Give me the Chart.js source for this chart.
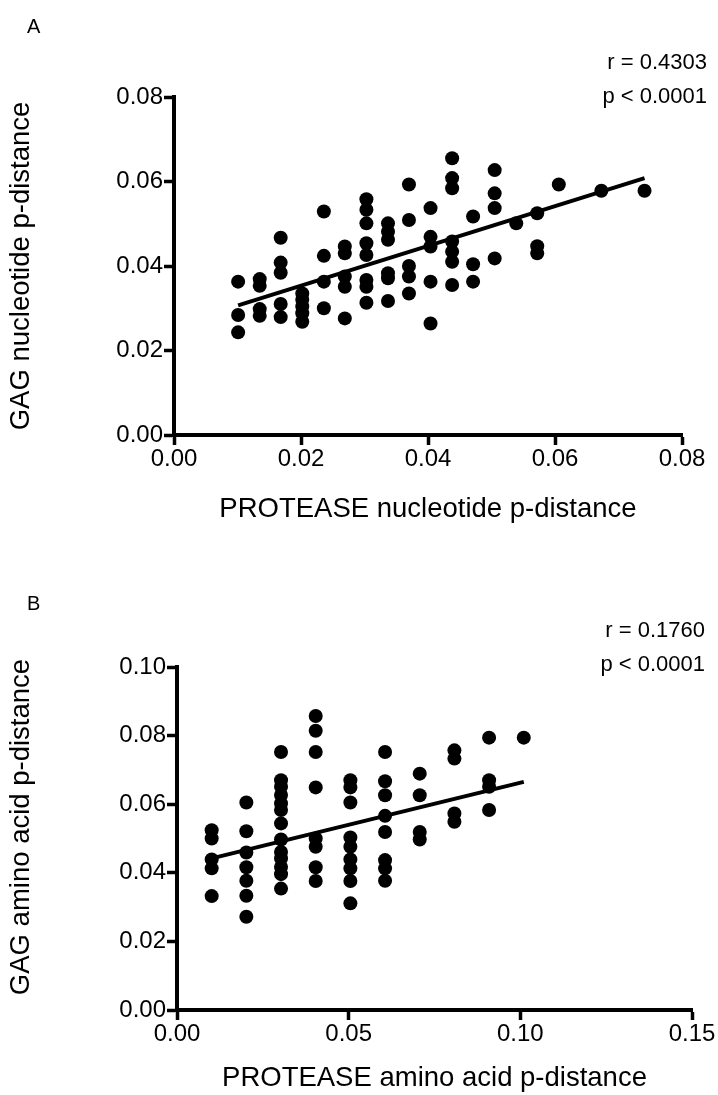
<!DOCTYPE html>
<html>
<head>
<meta charset="utf-8">
<script src="https://cdn.jsdelivr.net/npm/chart.js@4"></script>
<style>
  html, body { margin: 0; padding: 0; background: #fff; }
  canvas { display: block; }
</style>
</head>
<body>
<canvas id="chartA" width="718" height="548"></canvas>
<canvas id="chartB" width="718" height="547"></canvas>
<script>
// Panel A: protease vs gag nucleotide p-distance
const ntX = [
  0.0101, 0.0101, 0.0101,
  0.0135, 0.0135, 0.0135, 0.0135,
  0.0168, 0.0168, 0.0168, 0.0168, 0.0168,
  0.0202, 0.0202, 0.0202, 0.0202, 0.0202,
  0.0236, 0.0236, 0.0236, 0.0236,
  0.0269, 0.0269, 0.0269, 0.0269, 0.0269,
  0.0303, 0.0303, 0.0303, 0.0303, 0.0303, 0.0303, 0.0303, 0.0303,
  0.0337, 0.0337, 0.0337, 0.0337, 0.0337, 0.0337,
  0.0370, 0.0370, 0.0370, 0.0370, 0.0370,
  0.0404, 0.0404, 0.0404, 0.0404, 0.0404,
  0.0438, 0.0438, 0.0438, 0.0438, 0.0438, 0.0438, 0.0438,
  0.0471, 0.0471, 0.0471,
  0.0505, 0.0505, 0.0505, 0.0505,
  0.0539,
  0.0572, 0.0572, 0.0572,
  0.0606,
  0.0673,
  0.0741
];
const ntY = [
  0.0363, 0.0284, 0.0243,
  0.0369, 0.0353, 0.0298, 0.0282,
  0.0467, 0.0408, 0.0384, 0.0310, 0.0279,
  0.0335, 0.0320, 0.0304, 0.0288, 0.0268,
  0.0529, 0.0424, 0.0363, 0.0300,
  0.0446, 0.0430, 0.0375, 0.0351, 0.0276,
  0.0558, 0.0533, 0.0501, 0.0454, 0.0426, 0.0367, 0.0351, 0.0313,
  0.0501, 0.0481, 0.0462, 0.0383, 0.0371, 0.0317,
  0.0593, 0.0509, 0.0400, 0.0375, 0.0335,
  0.0537, 0.0469, 0.0446, 0.0363, 0.0264,
  0.0655, 0.0608, 0.0584, 0.0458, 0.0434, 0.0410, 0.0355,
  0.0517, 0.0404, 0.0363,
  0.0627, 0.0572, 0.0537, 0.0418,
  0.0501,
  0.0525, 0.0447, 0.0430,
  0.0593,
  0.0578,
  0.0578
];
const ntFitX = [0.0101, 0.0741];
const ntFitY = [0.0307, 0.0608];
const ntTicks = [0, 0.02, 0.04, 0.06, 0.08];

// Panel B: protease vs gag amino acid p-distance
const aaX = [
  0.0101, 0.0101, 0.0101, 0.0101, 0.0101,
  0.0202, 0.0202, 0.0202, 0.0202, 0.0202, 0.0202, 0.0202,
  0.0303, 0.0303, 0.0303, 0.0303, 0.0303, 0.0303, 0.0303, 0.0303, 0.0303, 0.0303, 0.0303, 0.0303, 0.0303,
  0.0404, 0.0404, 0.0404, 0.0404, 0.0404, 0.0404, 0.0404, 0.0404,
  0.0505, 0.0505, 0.0505, 0.0505, 0.0505, 0.0505, 0.0505, 0.0505, 0.0505,
  0.0606, 0.0606, 0.0606, 0.0606, 0.0606, 0.0606, 0.0606, 0.0606,
  0.0707, 0.0707, 0.0707, 0.0707,
  0.0808, 0.0808, 0.0808, 0.0808,
  0.0909, 0.0909, 0.0909, 0.0909,
  0.1010
];
const aaY = [
  0.0524, 0.0500, 0.0439, 0.0413, 0.0332,
  0.0605, 0.0521, 0.0459, 0.0416, 0.0377, 0.0333, 0.0272,
  0.0752, 0.0670, 0.0651, 0.0627, 0.0602, 0.0583, 0.0544, 0.0497, 0.0461, 0.0442, 0.0417, 0.0396, 0.0354,
  0.0857, 0.0814, 0.0752, 0.0649, 0.0500, 0.0476, 0.0416, 0.0376,
  0.0670, 0.0649, 0.0605, 0.0503, 0.0476, 0.0439, 0.0413, 0.0376, 0.0311,
  0.0752, 0.0667, 0.0626, 0.0566, 0.0519, 0.0437, 0.0413, 0.0377,
  0.0689, 0.0626, 0.0519, 0.0497,
  0.0757, 0.0733, 0.0573, 0.0549,
  0.0794, 0.0670, 0.0651, 0.0583,
  0.0794
];
const aaFitX = [0.0101, 0.1010];
const aaFitY = [0.0442, 0.0665];
const aaXTicks = [0, 0.05, 0.10, 0.15];
const aaYTicks = [0, 0.02, 0.04, 0.06, 0.08, 0.10];

const FONT = '"Liberation Sans", Arial, Helvetica, sans-serif';
Chart.defaults.font.family = FONT;
Chart.defaults.color = '#000';

const toPts = (xs, ys) => xs.map((x, i) => ({ x: x, y: ys[i] }));

// r / p text and panel letter
const notes = {
  id: 'notes',
  afterDraw(chart, args, o) {
    const ctx = chart.ctx;
    ctx.save();
    ctx.fillStyle = '#000';
    ctx.textBaseline = 'middle';
    ctx.textAlign = 'right';
    ctx.font = '22px ' + FONT;
    ctx.fillText(o.r, o.x, o.y);
    ctx.fillText(o.p, o.x, o.y + 34);
    ctx.textAlign = 'left';
    ctx.font = '20px ' + FONT;
    ctx.fillText(o.letter, 27, o.letterY);
    ctx.restore();
  }
};

function axis(min, max, ticks, title, side, size, titlePad, tickPad) {
  return {
    type: 'linear',
    min: min,
    max: max,
    afterBuildTicks: s => { s.ticks = ticks.map(v => ({ value: v })); },
    afterFit: s => { if (side === 'x') s.height = size; else s.width = size; },
    ticks: {
      font: { size: 24 },
      color: '#000',
      padding: tickPad,
      callback: v => v.toFixed(2)
    },
    grid: {
      display: true,
      drawOnChartArea: false,
      drawTicks: true,
      tickLength: 10,
      tickWidth: 3.5,
      tickColor: '#000'
    },
    border: { display: true, color: '#000', width: 4 },
    title: {
      display: true,
      text: title,
      font: { size: 27.5 },
      color: '#000',
      padding: titlePad
    }
  };
}

function makeChart(id, pts, fit, xAxis, yAxis, pad, note) {
  return new Chart(document.getElementById(id), {
    type: 'scatter',
    data: {
      datasets: [
        {
          data: pts,
          pointRadius: 7,
          pointHoverRadius: 7,
          backgroundColor: '#000',
          borderWidth: 0
        },
        {
          type: 'line',
          data: fit,
          borderColor: '#000',
          borderWidth: 4,
          pointRadius: 0,
          fill: false
        }
      ]
    },
    options: {
      responsive: false,
      animation: false,
      layout: { padding: pad },
      plugins: {
        legend: { display: false },
        tooltip: { enabled: false },
        notes: note
      },
      scales: { x: xAxis, y: yAxis }
    },
    plugins: [notes]
  });
}

makeChart('chartA',
  toPts(ntX, ntY),
  toPts(ntFitX, ntFitY),
  axis(0, 0.08, ntTicks, 'PROTEASE nucleotide p-distance', 'x', 113, { top: 0, bottom: 22 }, 0),
  axis(0, 0.08, ntTicks, 'GAG nucleotide p-distance', 'y', 174, { top: 5, bottom: 0 }, 1),
  { top: 97, right: 36, left: 0, bottom: 0 },
  { r: 'r = 0.4303', p: 'p < 0.0001', x: 707, y: 63, letter: 'A', letterY: 27 }
);

makeChart('chartB',
  toPts(aaX, aaY),
  toPts(aaFitX, aaFitY),
  axis(0, 0.15, aaXTicks, 'PROTEASE amino acid p-distance', 'x', 85, { top: 0, bottom: 0 }, 0),
  axis(0, 0.10, aaYTicks, '\u00A0\u00A0\u00A0GAG amino acid p-distance', 'y', 177, { top: 5, bottom: 0 }, 1),
  { top: 119, right: 26, left: 0, bottom: 0 },
  { r: 'r = 0.1760', p: 'p < 0.0001', x: 705, y: 83, letter: 'B', letterY: 56 }
);
</script>
</body>
</html>
